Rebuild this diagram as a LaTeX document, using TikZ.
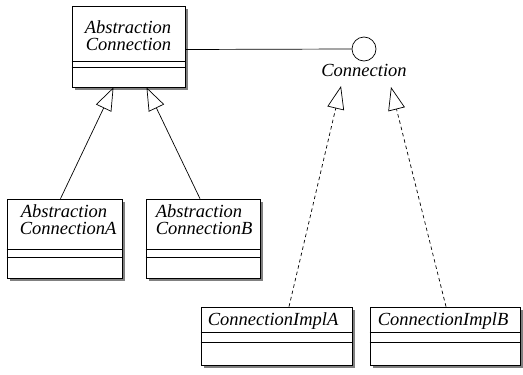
\documentclass[tikz,border=0pt]{standalone}
\usepackage{fontspec}
\setmainfont{Liberation Serif}
\usetikzlibrary{arrows.meta,shadows}
\begin{document}
\begin{tikzpicture}[x=1pt,y=-1pt,
  classbox/.style={draw=black, line width=0.7pt, fill=white, rectangle, inner sep=0pt,
    drop shadow={shadow xshift=3pt, shadow yshift=-3pt, fill=black!50, opacity=1}},
  lbl/.style={font=\fontsize{18.5}{20}\selectfont\itshape, inner sep=0pt, anchor=base west},
  divider/.style={draw=black, line width=0.6pt},
  inh/.style={draw=black, line width=0.7pt, -{Triangle[open, length=23pt, width=17pt, line width=0.7pt]}},
  real/.style={inh, dash pattern=on 3.5pt off 3pt}]
\useasboundingbox (0,0) rectangle (523,375);

% classes
\node[classbox, minimum width=113pt, minimum height=81pt] (ac) at (128.5,46.5) {};
\node[lbl] (acT1) at ([xshift=13pt,yshift=-28pt]ac.north west) {Abstraction};
\node[lbl] (acT2) at ([xshift=14pt,yshift=-45pt]ac.north west) {Connection};
\draw[divider] ([yshift=-56pt]ac.north west) -- ([yshift=-56pt]ac.north east);
\draw[divider] ([yshift=-62pt]ac.north west) -- ([yshift=-62pt]ac.north east);

\node[classbox, minimum width=115pt, minimum height=79pt] (acA) at (64.5,238.5) {};
\node[lbl] (acAT1) at ([xshift=14pt,yshift=-19pt]acA.north west) {Abstraction};
\node[lbl] (acAT2) at ([xshift=13pt,yshift=-36pt]acA.north west) {ConnectionA};
\draw[divider] ([yshift=-51pt]acA.north west) -- ([yshift=-51pt]acA.north east);
\draw[divider] ([yshift=-59pt]acA.north west) -- ([yshift=-59pt]acA.north east);

\node[classbox, minimum width=114pt, minimum height=79pt] (acB) at (203,238.5) {};
\node[lbl] (acBT1) at ([xshift=10pt,yshift=-19pt]acB.north west) {Abstraction};
\node[lbl] (acBT2) at ([xshift=10pt,yshift=-36pt]acB.north west) {ConnectionB};
\draw[divider] ([yshift=-51pt]acB.north west) -- ([yshift=-51pt]acB.north east);
\draw[divider] ([yshift=-59pt]acB.north west) -- ([yshift=-59pt]acB.north east);

\node[classbox, minimum width=151pt, minimum height=58pt] (ciA) at (276.5,336) {};
\node[lbl] (ciAT) at ([xshift=7pt,yshift=-19pt]ciA.north west) {ConnectionImplA};
\draw[divider] ([yshift=-26pt]ciA.north west) -- ([yshift=-26pt]ciA.north east);
\draw[divider] ([yshift=-36pt]ciA.north west) -- ([yshift=-36pt]ciA.north east);

\node[classbox, minimum width=150pt, minimum height=58pt] (ciB) at (445,336) {};
\node[lbl] (ciBT) at ([xshift=8pt,yshift=-19pt]ciB.north west) {ConnectionImplB};
\draw[divider] ([yshift=-26pt]ciB.north west) -- ([yshift=-26pt]ciB.north east);
\draw[divider] ([yshift=-36pt]ciB.north west) -- ([yshift=-36pt]ciB.north east);

% interface
\node[circle, draw=black, line width=0.7pt, fill=white, minimum size=24pt, inner sep=0pt] (ci) at (364,49) {};
\node[lbl, anchor=base] (cl) at (364,76) {Connection};
\coordinate (r1) at (341,86);
\coordinate (r2) at (391,87);

% connectors
\draw[line width=0.7pt] ([yshift=-3pt]ac.east) -- (ci.west);
\draw[inh] ([xshift=-4pt]acA.north) -- ([xshift=-15pt]ac.south);
\draw[inh] ([xshift=-3pt]acB.north) -- ([xshift=18pt]ac.south);
\draw[real] ([xshift=12.5pt]ciA.north) -- (r1);
\draw[real] ([xshift=1pt]ciB.north) -- (r2);
\end{tikzpicture}
\end{document}
